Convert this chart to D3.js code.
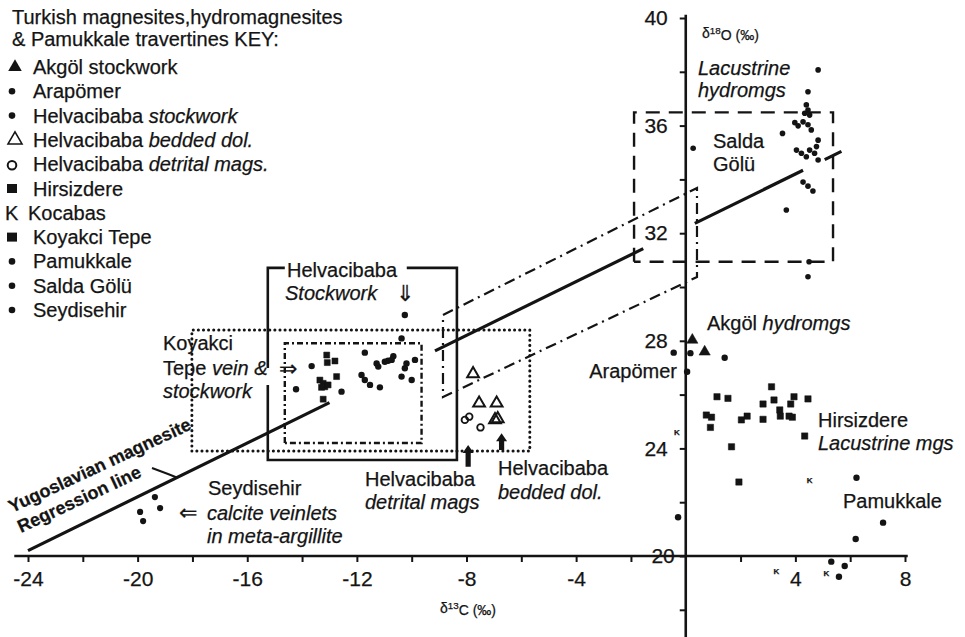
<!DOCTYPE html>
<html><head><meta charset="utf-8">
<script src="https://cdn.jsdelivr.net/npm/d3@7"></script>
<style>
body{margin:0;background:#fff;}
svg{display:block;font-family:"Liberation Sans",Arial,Helvetica,sans-serif;}
svg text{stroke:#141414;stroke-width:0.25px;}
</style></head><body>
<svg id="c" width="965" height="637"></svg>
<script>
// ---------------- data (δ13C ‰, δ18O ‰) ----------------
const xTicks = [-24, -20, -16, -12, -8, -4, 4, 8];
const yTicks = [20, 24, 28, 32, 36, 40];
const xMinorTicks = [-24,-22,-20,-18,-16,-14,-12,-10,-8,-6,-4,-2,2,4,6,8];
const yMinorTicks = [18,20,22,24,26,28,30,32,34,36,38,40];

const akgol = [[0.24,28.03],[0.69,27.59]];
const arapomer = [[-0.44,27.56],[0.17,27.54],[0.05,26.85],[1.42,27.37]];
const helvStockwork = [[-10.25,28.96],[-10.37,28.09],[-13.65,27.06],[-11.71,27.56],[-11.28,27.16],[-11.22,27.04],[-10.98,27.22],[-10.86,27.26],[-10.67,27.43],[-10.73,27.29],[-9.88,27.29],[-10.19,27.16],[-10.25,26.98],[-10.37,26.67],[-10.00,26.54],[-14.22,26.20],[-12.56,26.11],[-11.83,26.73],[-11.71,26.54],[-11.52,26.36],[-11.16,26.27]];
const helvBedded = [[-7.76,26.77],[-7.54,25.68],[-6.90,25.68],[-6.96,25.06],[-6.86,25.10]];
const helvDetrital = [[-8.06,25.06],[-7.90,25.18],[-7.49,24.78]];
const hirsizdere = [[1.14,25.92],[1.54,25.86],[0.75,25.24],[0.94,25.16],[0.90,24.78],[1.67,24.06],[2.03,25.06],[2.24,25.20],[2.82,25.65],[2.82,25.08],[3.13,26.29],[3.22,25.80],[3.43,25.43],[3.45,25.20],[3.77,25.20],[3.89,25.16],[3.83,25.65],[3.95,25.92],[4.46,25.84],[4.34,24.46],[1.94,22.75]];
const kocabas = [[-0.32,24.62],[4.52,22.80],[3.31,19.42],[5.13,19.36]];
const koyakci = [[-13.10,27.47],[-12.80,27.25],[-13.08,27.19],[-13.35,26.54],[-13.23,26.42],[-13.17,26.29],[-13.29,26.27],[-13.05,26.36],[-12.74,26.67],[-13.23,25.83]];
const pamukkale = [[6.23,22.91],[-0.28,21.44],[7.20,21.24],[6.20,20.63],[5.31,19.79],[5.80,19.63],[5.59,19.23]];
const salda = [[4.83,38.07],[4.46,37.26],[4.40,36.77],[4.46,36.58],[4.34,36.46],[4.52,36.39],[4.28,36.14],[3.98,36.11],[4.10,35.99],[4.46,36.03],[4.58,35.84],[3.53,35.71],[4.83,35.46],[4.77,35.22],[4.04,35.09],[4.22,34.97],[4.40,34.84],[4.70,34.97],[4.83,34.72],[4.52,35.09],[4.28,33.90],[4.46,33.75],[4.64,33.57],[3.67,32.86],[4.50,30.94],[4.46,30.38],[0.27,35.16]];
const seydisehir = [[-19.37,22.19],[-19.18,21.78],[-19.91,21.64],[-19.80,21.30]];

// Yugoslavian magnesite regression line (drawn in broken segments)
const regressionSegments = [
  [[-24,20.2],[-13.0,25.7]],
  [[-9.15,27.625],[-1.55,31.425]],
  [[0.33,32.365],[4.28,34.34]],
  [[5.07,34.735],[5.68,35.04]]
];
// outlined fields, in data units: [x0, y0, x1, y1]
const saldaField = [-1.886, 30.94, 5.374, 36.49];
const koyakciOuterField = [-18.02, 23.90, -5.69, 28.40];
const koyakciInnerField = [-14.63, 24.20, -9.64, 27.91];
const helvStockField = [-15.25, 23.57, -8.35, 30.71];
const dashDotBand = [[-8.858,28.96],[0.41,33.68],[0.41,30.37],[-8.858,25.91]];
const blackArrows = [[-7.94,23.32,24.13],[-6.72,23.94,24.56]];

// ---------------- chart ----------------
const svg = d3.select("#c");
const ink = "#141414";
const x = d3.scaleLinear().domain([-24, 8]).range([28, 905]);
const y = d3.scaleLinear().domain([20, 40]).range([556, 18]);
const line = d3.line().x(d => x(d[0])).y(d => y(d[1]));

// axes
const gx = svg.append("g").attr("transform", `translate(0,${y(20)})`)
  .call(d3.axisBottom(x).tickValues(xMinorTicks).tickSize(6).tickPadding(9)
    .tickFormat(d => xTicks.includes(d) ? String(d) : ""));
gx.select(".domain").remove();
gx.selectAll("line").attr("stroke", ink).attr("stroke-width", 2);
gx.selectAll("text").attr("font-size", 21).attr("fill", ink).attr("font-family", null);

const gy = svg.append("g").attr("transform", `translate(${x(0)},0)`)
  .call(d3.axisLeft(y).tickValues(yMinorTicks).tickSize(6).tickPadding(12)
    .tickFormat(d => yTicks.includes(d) ? String(d) : ""));
gy.select(".domain").remove();
gy.selectAll("line").attr("stroke", ink).attr("stroke-width", 2);
gy.selectAll("text").attr("font-size", 21).attr("fill", ink).attr("font-family", null)
  .attr("dx", d => d === 20 ? 7 : 0);

svg.append("line").attr("x1", x(-24.5)).attr("x2", x(8.1)).attr("y1", y(20)).attr("y2", y(20))
  .attr("stroke", ink).attr("stroke-width", 2.6);
svg.append("line").attr("x1", x(0)).attr("x2", x(0)).attr("y1", y(40.12)).attr("y2", y(16.9))
  .attr("stroke", ink).attr("stroke-width", 2.6);

// fields
function rectPath(b) {
  return [[b[0],b[1]],[b[0],b[3]],[b[2],b[3]],[b[2],b[1]],[b[0],b[1]]];
}
svg.append("path").attr("d", line(rectPath(saldaField))).attr("fill", "none")
  .attr("stroke", ink).attr("stroke-width", 2.4).attr("stroke-dasharray", "14 9");
svg.append("path").attr("d", line(rectPath(koyakciOuterField))).attr("fill", "none")
  .attr("stroke", ink).attr("stroke-width", 3).attr("stroke-linecap", "round").attr("stroke-dasharray", "0.1 5");
svg.append("path").attr("d", line(rectPath(koyakciInnerField))).attr("fill", "none")
  .attr("stroke", ink).attr("stroke-width", 2.4).attr("stroke-dasharray", "6 3 2 3");
// Helvacibaba stockwork bracket field (solid, with gaps for label and arrow)
const hs = helvStockField;
svg.append("path").attr("fill", "none").attr("stroke", ink).attr("stroke-width", 2.6)
  .attr("d", line([[-14.63,hs[3]],[hs[0],hs[3]],[hs[0],26.99]]) + line([[hs[0],26.36],[hs[0],hs[1]],[hs[2],hs[1]],[hs[2],hs[3]],[-10.18,hs[3]]]));
svg.append("path").attr("d", line(dashDotBand) + "Z").attr("fill", "none")
  .attr("stroke", ink).attr("stroke-width", 2.2).attr("stroke-dasharray", "11 5 2 5");

// regression line
regressionSegments.forEach(s => {
  svg.append("path").attr("d", line(s)).attr("stroke", ink).attr("stroke-width", 3.2).attr("fill", "none");
});

// black arrows
blackArrows.forEach(a => {
  const ax = x(a[0]), yb = y(a[1]), yt = y(a[2]);
  svg.append("path").attr("fill", ink)
    .attr("d", `M${ax-2.6},${yb}L${ax-2.6},${yt+8}L${ax-5.5},${yt+8}L${ax},${yt}L${ax+5.5},${yt+8}L${ax+2.6},${yt+8}L${ax+2.6},${yb}Z`);
});

// points
function dots(data, r) {
  svg.append("g").selectAll("circle").data(data).join("circle")
    .attr("cx", d => x(d[0])).attr("cy", d => y(d[1])).attr("r", r).attr("fill", ink);
}
function sym(data, type, size, filled) {
  svg.append("g").selectAll("path").data(data).join("path")
    .attr("transform", d => `translate(${x(d[0])},${y(d[1])})`)
    .attr("d", d3.symbol().type(type).size(size))
    .attr("fill", filled ? ink : "none").attr("stroke", ink).attr("stroke-width", filled ? 0.5 : 2);
}
dots(seydisehir, 3.1);
dots(helvStockwork, 3.2);
sym(koyakci, d3.symbolSquare, 36, true);
sym(helvBedded, d3.symbolTriangle, 60, false);
svg.append("g").selectAll("circle").data(helvDetrital).join("circle")
  .attr("cx", d => x(d[0])).attr("cy", d => y(d[1])).attr("r", 3.3)
  .attr("fill", "none").attr("stroke", ink).attr("stroke-width", 1.8);
sym(akgol, d3.symbolTriangle, 55, true);
dots(arapomer, 3.2);
sym(hirsizdere, d3.symbolSquare, 40, true);
dots(pamukkale, 3.2);
dots(salda, 2.8);
svg.append("g").selectAll("text").data(kocabas).join("text")
  .attr("x", d => x(d[0])).attr("y", d => y(d[1])).attr("dy", "0.35em")
  .attr("text-anchor", "middle").attr("font-size", 8).attr("font-weight", "bold")
  .attr("fill", ink).text("K");

// ---------------- text ----------------
function label(px, py, parts, size, extra) {
  const t = svg.append("text").attr("x", px).attr("y", py).attr("font-size", size || 20).attr("fill", ink);
  parts.forEach(p => {
    const s = t.append("tspan").text(p[0]);
    if (p[1] === "i") s.attr("font-style", "italic");
    if (p[1] === "sup") s.attr("font-size", "0.7em").attr("dy", "-0.45em");
    if (p[1] === "after") s.attr("dy", "0.45em");
  });
  if (extra) extra(t);
  return t;
}
// legend
label(12, 24, [["Turkish magnesites,hydromagnesites"]]);
label(12, 46, [["& Pamukkale travertines KEY:"]]);
const legendRows = [
  [[["Akgöl stockwork"]], "tri"],
  [[["Arapömer"]], "dot"],
  [[["Helvacibaba "],["stockwork","i"]], "dot"],
  [[["Helvacibaba "],["bedded dol.","i"]], "otri"],
  [[["Helvacibaba "],["detrital mags.","i"]], "o"],
  [[["Hirsizdere"]], "sq"],
  [[["Kocabas"]], "K"],
  [[["Koyakci Tepe"]], "sq"],
  [[["Pamukkale"]], "dot"],
  [[["Salda Gölü"]], "dot"],
  [[["Seydisehir"]], "dot"]
];
legendRows.forEach((r, i) => {
  const by = 74 + i * 24.3, cy = by - 7;
  const m = r[1];
  if (m === "tri") svg.append("path").attr("transform", `translate(15,${cy})`).attr("d", d3.symbol().type(d3.symbolTriangle).size(80)).attr("fill", ink);
  if (m === "otri") svg.append("path").attr("transform", `translate(15,${cy})`).attr("d", d3.symbol().type(d3.symbolTriangle).size(85)).attr("fill", "none").attr("stroke", ink).attr("stroke-width", 1.6);
  if (m === "dot") svg.append("circle").attr("cx", 12).attr("cy", cy).attr("r", 3.3).attr("fill", ink);
  if (m === "o") svg.append("circle").attr("cx", 12).attr("cy", cy + 1).attr("r", 4.3).attr("fill", "none").attr("stroke", ink).attr("stroke-width", 2);
  if (m === "sq") svg.append("rect").attr("x", 7).attr("y", cy - 4.5).attr("width", 10).attr("height", 9).attr("fill", ink);
  if (m === "K") label(5, by, [["K"]]);
  label(m === "K" ? 28 : 33, by, r[0]);
});

// annotations
label(287, 277, [["Helvacibaba"]]);
label(285, 300, [["Stockwork","i"]]);
label(405, 301, [["⇓"]], 22, t => t.attr("text-anchor", "middle"));
label(163, 350, [["Koyakci"]]);
label(163, 375, [["Tepe "],["vein &","i"]]);
label(163, 398, [["stockwork","i"]]);
label(288, 376, [["⇒"]], 22, t => t.attr("text-anchor", "middle"));
label(208, 495, [["Seydisehir"]]);
label(188, 520, [["⇐"]], 22, t => t.attr("text-anchor", "middle"));
label(207, 520, [["calcite veinlets","i"]]);
label(207, 543, [["in meta-argillite","i"]]);
label(365, 486, [["Helvacibaba"]]);
label(365, 509, [["detrital mags","i"]]);
label(498, 475, [["Helvacibaba"]]);
label(498, 499, [["bedded dol.","i"]]);
label(698, 75, [["Lacustrine","i"]]);
label(698, 97, [["hydromgs","i"]]);
label(713, 148, [["Salda"]]);
label(713, 171, [["Gölü"]]);
label(707, 330, [["Akgöl "],["hydromgs","i"]]);
label(677, 378, [["Arapömer"]], 20, t => t.attr("text-anchor", "end"));
label(818, 427, [["Hirsizdere"]]);
label(818, 450, [["Lacustrine mgs","i"]]);
label(843, 508, [["Pamukkale"]]);
label(702, 38, [["δ"],["18","sup"],["O (‰)","after"]], 14);
label(440, 613, [["δ"],["13","sup"],["C (‰)","after"]], 14);

// Yugoslavian regression line label
label(12, 513, [["Yugoslavian magnesite"]], 18, t => t.attr("font-weight", "bold").attr("transform", "rotate(-25 12 513)"));
label(21, 533, [["Regression line"]], 18, t => t.attr("font-weight", "bold").attr("transform", "rotate(-25 21 533)"));
svg.append("path").attr("fill", "none").attr("stroke", ink).attr("stroke-width", 2)
  .attr("d", `M152,468L168,474L${x(-18.57)},${y(22.92)}`);
</script>
</body></html>
